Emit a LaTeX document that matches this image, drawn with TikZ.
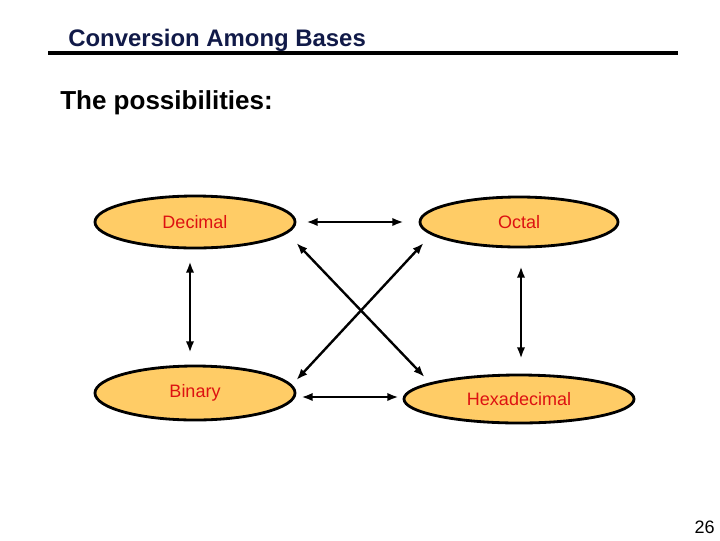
\documentclass[tikz,border=0pt]{standalone}
\usepackage{fontspec}
\setmainfont{Liberation Sans}
\usepackage{tikz}
\usetikzlibrary{arrows.meta}
\usetikzlibrary{shapes.geometric}
\usetikzlibrary{calc}
\tikzset{>={Latex[length=8pt,width=6pt]}}
\definecolor{basefill}{HTML}{FFCC66}
\definecolor{basetext}{HTML}{DD1111}
\definecolor{titlenavy}{HTML}{111A48}

\begin{document}
\begin{tikzpicture}[x=0.025cm, y=-0.025cm]
            \tikzset{base/.style = {ellipse, draw, line width=2pt, fill=basefill, text=basetext, font=\fontsize{12.8}{14}\selectfont, inner sep=0pt},
                     conv/.style = {line width=1.7pt, <->},
                     plain/.style = {inner sep=0pt}}
            \useasboundingbox (0, 0) rectangle (720, 540);
            \node[plain, anchor=base west, text=titlenavy, font=\bfseries\fontsize{17}{19}\selectfont] (title) at (68, 46) {Conversion Among Bases};
            \draw[line width=3.5pt] (48, 53) -- (678, 53);
            \node[plain, anchor=base west, font=\bfseries\fontsize{18.5}{21}\selectfont] (intro) at (60, 109) {The possibilities:};
            \node[base, minimum width=5cm, minimum height=1.3cm] (dec) at (195, 222) {Decimal};
            \node[base, minimum width=4.95cm, minimum height=1.25cm] (oct) at (519, 222) {Octal};
            \node[base, minimum width=5cm, minimum height=1.35cm] (bin) at (195, 393) {Binary};
            \node[base, minimum width=5.75cm, minimum height=1.2cm] (hex) at (519, 399) {Hexadecimal};
            \draw[conv] ($(dec.east) + (10, 0)$) -- ($(oct.west) + (-15, 0)$);
            \draw[conv] ($(bin.east) + (5, 4)$) -- ($(hex.west) + (-4, -2)$);
            \draw[conv] ($(dec.south) + (-5, 12)$) -- ($(bin.north) + (-5, -12)$);
            \draw[conv] ($(oct.south) + (2, 18)$) -- ($(hex.north) + (2, -15)$);
            \draw[conv] ($(dec.east) + (0, 21)$) -- ($(hex.west) + (22, -22)$);
            \draw[conv] ($(oct.west) + (5, 21)$) -- ($(bin.east) + (0, -13)$);
            \node[plain, anchor=base east, font=\fontsize{12.8}{14}\selectfont] (page) at (715, 533) {26};
        \end{tikzpicture}
\end{document}
